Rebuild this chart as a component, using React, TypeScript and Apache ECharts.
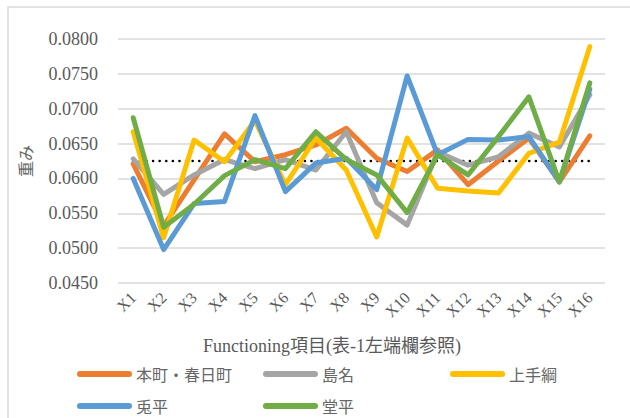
import React, { useEffect, useRef } from "react";
import * as echarts from "echarts";

const categories = ["X1","X2","X3","X4","X5","X6","X7","X8","X9","X10","X11","X12","X13","X14","X15","X16"];
const seriesNames = ["本町・春日町", "島名", "上手綱", "兎平", "堂平"];
const honcho = [0.0621,0.0532,0.0598,0.0664,0.0624,0.0634,0.0648,0.0672,0.0629,0.0610,0.0641,0.0591,0.0625,0.0658,0.0595,0.0661];
const shimana = [0.0628,0.0577,0.0605,0.0627,0.0614,0.0627,0.0612,0.0667,0.0565,0.0533,0.0638,0.0619,0.0631,0.0665,0.0645,0.0720];
const kamitezuna = [0.0667,0.0515,0.0655,0.0624,0.0683,0.0591,0.0658,0.0612,0.0516,0.0658,0.0586,0.0582,0.0579,0.0636,0.0652,0.0789];
const usagidaira = [0.0600,0.0498,0.0564,0.0567,0.0690,0.0581,0.0622,0.0629,0.0584,0.0747,0.0634,0.0656,0.0655,0.0660,0.0595,0.0728];
const dodaira = [0.0687,0.0530,0.0563,0.0604,0.0627,0.0614,0.0667,0.0627,0.0605,0.0551,0.0634,0.0605,0.0660,0.0717,0.0595,0.0737];
const reference = [0.0625,0.0625,0.0625,0.0625,0.0625,0.0625,0.0625,0.0625,0.0625,0.0625,0.0625,0.0625,0.0625,0.0625,0.0625,0.0625];
const yTicks = { min: 0.045, max: 0.08, interval: 0.005 };
const xAxisTitle = "Functioning項目(表-1左端欄参照)";
const yAxisTitle = "重み";

const colors = ["#ED7D31", "#A5A5A5", "#FFC000", "#5B9BD5", "#70AD47"];
const allData = [honcho, shimana, kamitezuna, usagidaira, dodaira];
const legendPos = [
  { left: 77, top: 366 },
  { left: 263, top: 366 },
  { left: 450, top: 366 },
  { left: 77, top: 398 },
  { left: 263, top: 398 },
];

const serif = "Liberation Serif, Noto Sans CJK JP, serif";
const cjk = "Noto Sans CJK JP, sans-serif";

export default function App() {
  const ref = useRef<HTMLDivElement>(null);
  useEffect(() => {
    if (!ref.current) return;
    const chart = echarts.init(ref.current, null, { renderer: "svg" });
    const lineSeries: any[] = seriesNames.map((name, i) => ({
      name,
      type: "line",
      data: allData[i],
      symbol: "none",
      lineStyle: { color: colors[i], width: 5, cap: "round", join: "round" },
      itemStyle: { color: colors[i] },
      z: 3 + i,
    }));
    lineSeries.unshift({
      name: "平均",
      type: "line",
      data: reference,
      symbol: "none",
      lineStyle: { color: "#000000", width: 2.5, type: [0.1, 6.5], cap: "round" },
      z: 2,
    });
    chart.setOption({
      animation: false,
      backgroundColor: "#ffffff",
      textStyle: { fontFamily: serif },
      grid: { left: 118, right: 25, top: 39, bottom: 135, containLabel: false },
      legend: seriesNames.map((name, i) => ({
        data: [name],
        left: legendPos[i].left,
        top: legendPos[i].top,
        padding: 0,
        icon: "path://M3,0 L52,0 A3,3 0 0 1 52,6 L3,6 A3,3 0 0 1 3,0 Z",
        itemWidth: 55,
        itemHeight: 6,
        selectedMode: false,
        textStyle: { color: "#666666", fontSize: 16, fontFamily: cjk, fontWeight: "normal", padding: [0, 0, 0, -1] },
      })),
      xAxis: {
        type: "category",
        data: categories,
        boundaryGap: true,
        axisLine: { show: false },
        axisTick: { show: false },
        axisLabel: {
          rotate: 45,
          margin: 12,
          interval: 0,
          formatter: (v: string) => `{s|${v}}`,
          rich: { s: { color: "#595959", fontSize: 16, fontFamily: serif } },
        },
        splitLine: { show: false },
      },
      yAxis: {
        type: "value",
        min: yTicks.min,
        max: yTicks.max,
        interval: yTicks.interval,
        name: yAxisTitle,
        nameLocation: "middle",
        nameGap: 85,
        nameRotate: 90,
        nameTextStyle: { color: "#666666", fontSize: 16, fontFamily: cjk, fontWeight: "normal" },
        axisLine: { show: false },
        axisTick: { show: false },
        axisLabel: {
          margin: 20,
          formatter: (v: number) => `{s|${v.toFixed(4)}}`,
          rich: { s: { color: "#595959", fontSize: 18, fontFamily: serif } },
        },
        splitLine: { lineStyle: { color: "#D9D9D9", width: 1.5 } },
      },
      graphic: [
        {
          type: "rect",
          shape: { x: 8, y: 7, width: 700, height: 500 },
          style: { fill: "none", stroke: "#D9D9D9", lineWidth: 1.5 },
          silent: true,
          z: 0,
        },
        {
          type: "text",
          x: 332,
          y: 346,
          style: {
            text: xAxisTitle,
            fill: "#595959",
            fontSize: 18,
            fontFamily: serif,
            align: "center",
            verticalAlign: "middle",
          },
        },
      ],
      series: lineSeries,
    });
    return () => chart.dispose();
  }, []);
  return <div ref={ref} style={{ width: 630, height: 418, position: "absolute", left: 0, top: 0 }} />;
}
